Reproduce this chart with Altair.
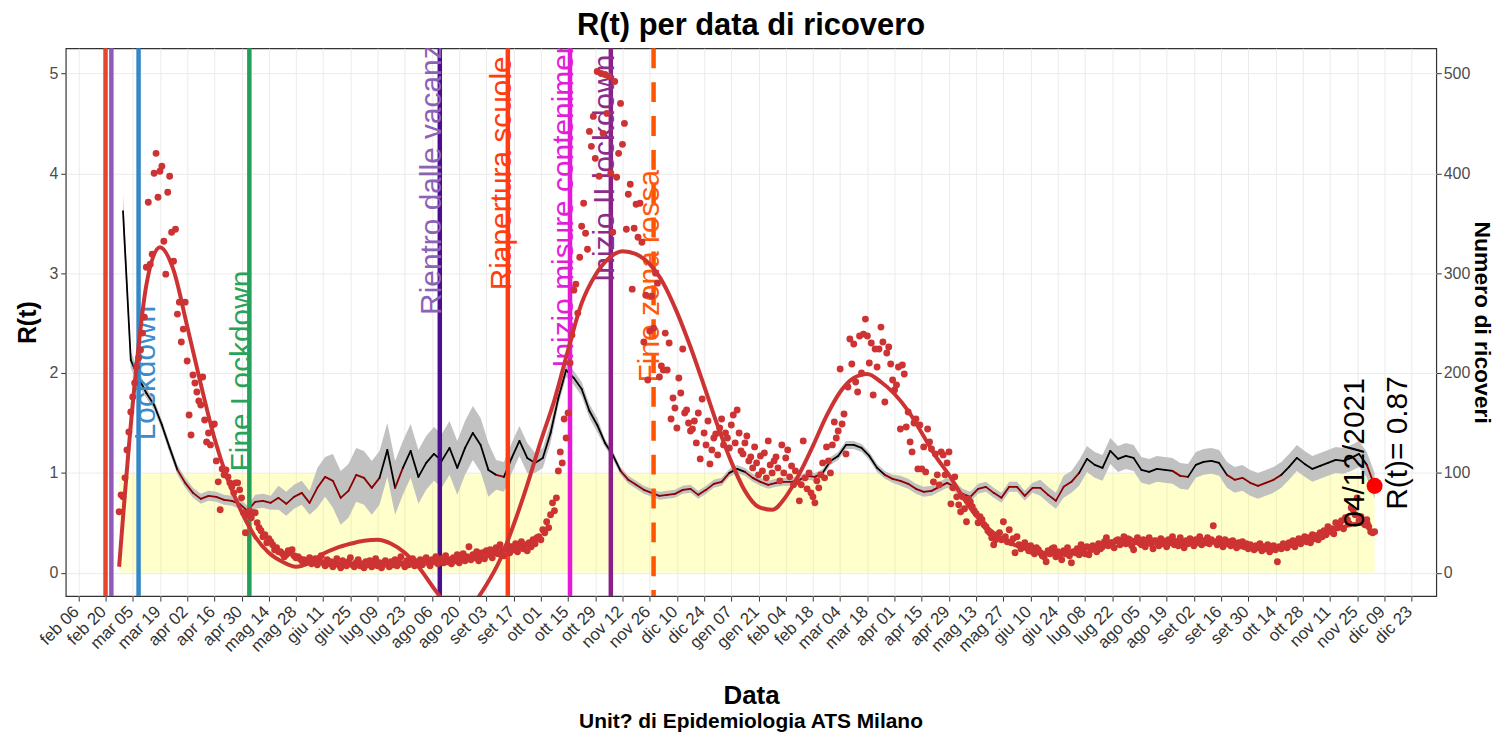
import altair as alt
import pandas as pd
import numpy as np

BASE = pd.Timestamp("2020-02-06")

# ---------------- R(t) (every 4 days from 29 Feb 2020 to 4 Dec 2021)
r_start_day = 23
r_step = 4
r_values = [
    3.62, 2.13, 1.95, 1.80, 1.68, 1.48, 1.25, 1.03, 0.90, 0.80,
    0.74, 0.77, 0.76, 0.73, 0.72, 0.69, 0.62, 0.71, 0.72, 0.70,
    0.75, 0.69, 0.76, 0.80, 0.70, 0.85, 0.96, 0.92, 0.75, 0.82,
    0.98, 0.95, 0.85, 0.95, 1.23, 0.85, 1.05, 1.22, 0.96, 1.10,
    1.19, 1.12, 1.25, 1.05, 1.25, 1.40, 1.28, 1.03, 0.98, 0.96,
    1.15, 1.32, 1.15, 1.10, 1.15, 1.40, 1.75, 2.03, 1.95, 1.84,
    1.62, 1.48, 1.30, 1.18, 1.02, 0.93, 0.88, 0.83, 0.80, 0.77,
    0.78, 0.79, 0.83, 0.84, 0.78, 0.83, 0.89, 0.91, 1.00, 1.04,
    1.01, 0.95, 0.91, 0.88, 0.90, 0.91, 0.91, 0.93, 0.97, 0.96,
    1.00, 1.12, 1.17, 1.28, 1.28, 1.25, 1.17, 1.05, 0.98, 0.94,
    0.92, 0.89, 0.84, 0.81, 0.82, 0.86, 0.90, 0.86, 0.79, 0.76,
    0.84, 0.86, 0.80, 0.75, 0.86, 0.86, 0.77, 0.85, 0.85, 0.78,
    0.72, 0.86, 0.91, 1.00, 1.14, 1.08, 1.05, 1.22, 1.14, 1.17,
    1.15, 1.03, 1.01, 1.04, 1.03, 1.02, 0.97, 0.96, 1.08, 1.11,
    1.12, 1.10, 0.98, 0.93, 0.95, 0.90, 0.87, 0.90, 0.93, 0.98,
    1.06, 1.15, 1.09, 1.04, 1.07, 1.10, 1.13, 1.12, 1.15, 1.19,
    1.08, 0.87,
]
# half width of the grey band, by period (start day -> half width)
band_start_days = [23, 27, 35, 88, 103, 122, 128, 215, 235, 245, 270, 420, 495, 505, 515]
band_half_width = [0.17, 0.08, 0.05, 0.07, 0.12, 0.20, 0.27, 0.15, 0.10, 0.07, 0.04, 0.05, 0.08, 0.11, 0.13]

# ---------------- daily hospitalisations (Numero di ricoveri), by segment
hosp_segments = [
    (21, [61, 78, 76, 95, 123, 141, 161, 176, 190, 206,
          215, 223, 240, 256, 306, 371, 309, 319, 400, 420,
          376, 402, 407, 332, 299, 381, 397, 341, 312, 344,
          259, 271, 231, 244, 271, 212, 158, 138, 198, 190,
          181, 172, 168, 196, 153, 131, 140, 128, 148, 149,
          112, 91, 63, 104, 98, 103, 96, 90, 86, 80,
          90, 90, 83, 75, 60, 40, 58, 62, 55, 60,
          60, 50, 45, 42, 36, 38, 30, 34, 31, 28,
          23, 25, 21, 21, 19, 16, 18, 22, 20, 23,
          17, 15, 16, 14, 12, 13, 10]),
    (118, [12, 15, 9, 11, 14, 8, 12, 17, 10, 7,
           13, 9, 11, 6, 10, 14, 8, 5, 12, 9,
           7, 11, 15, 8, 6, 10, 13, 7, 9, 5,
           11, 8, 12, 6, 9, 14, 7, 10, 5, 8,
           12, 9, 6, 11, 8, 13, 7, 10, 16, 9,
           6, 12, 8, 10, 14, 7, 11, 9, 13, 8,
           12, 15, 10, 7, 13, 11, 16, 9, 12, 14,
           10, 17, 11, 13, 9, 15, 12, 18, 10, 14,
           19, 12, 16, 26, 13, 18, 15, 21, 12, 17,
           20, 14, 22, 18, 23, 15, 20, 25, 19, 28,
           22, 17, 24, 27, 20, 26, 23, 29, 21, 26,
           31, 24, 28, 22, 30, 26, 33, 29, 35]),
    (237, [36, 33, 43, 40, 51, 45, 58, 70, 62, 75,
           102, 121, 110, 154, 135, 160, 210, 238, 283, 289,
           260, 316, 347, 370, 340, 324, 442, 427, 457, 415,
           502, 397, 500, 440, 499, 460, 497, 400, 341, 492,
           396, 420, 470, 429, 450, 344, 379, 389, 284, 345,
           369, 336, 370, 331, 231, 278, 193, 242, 277, 245,
           300, 290, 196, 207]),
    (301, [203, 240, 203, 230, 154, 175, 165, 145, 195, 180,
           224, 160, 163, 150, 142, 144, 152, 130, 160, 114,
           174, 140, 128, 152, 109, 123, 135, 139, 118, 145,
           154, 128, 140, 135, 125, 148, 158, 130, 163, 140,
           122, 119, 130, 137, 112, 116, 105, 126, 110, 98,
           117, 102, 120, 95, 132, 108, 100, 112, 116, 105,
           92, 128, 100, 115, 123, 96, 107, 88, 102, 91,
           72, 88, 132, 95, 84, 100, 80, 76, 70, 92,
           85, 98, 110, 95, 126, 112, 100, 128, 151, 135,
           142, 204, 149, 159, 119, 186, 234, 209, 229, 191,
           181, 237, 200, 239, 254, 237, 210, 230, 178, 224,
           206, 224, 246, 231, 171, 220, 226, 209, 193, 183]),
    (421, [188, 206, 144, 208, 199, 146, 161, 131, 121, 150,
           154, 104, 148, 104, 126, 101, 144, 131, 124, 91,
           119, 98, 88, 121, 118, 98, 110, 121, 69, 85,
           96, 76, 68, 61, 76, 64, 51, 74, 71, 66,
           62, 59, 50, 56, 53, 48, 46, 42, 40, 35,
           28, 33, 38, 40, 33, 51, 36, 31, 43, 30,
           34, 20, 36, 28, 24, 26, 30, 25, 22, 27,
           21, 19, 25, 23, 20, 17, 16, 11, 22, 19,
           24, 25, 16, 21, 18, 13, 22, 19, 25, 17,
           10, 21, 20, 24, 18, 28, 22, 19, 26, 18,
           23, 27, 25, 21, 29, 24, 26, 31, 35, 27,
           30, 30, 25, 32, 33, 28, 31, 36, 29, 34,
           33, 27, 23, 31, 35]),
    (546, [30, 28, 33, 26, 31, 35, 29, 24, 32, 30,
           27, 34, 29, 31, 26, 33, 30, 36, 28, 31,
           27, 35, 30, 25, 32, 29, 34, 31, 27, 33,
           30, 36, 28, 32, 30, 35, 29, 33, 47, 31,
           28, 34, 30, 26, 33, 29, 31, 27, 32, 28,
           25, 30, 27, 31, 26, 29, 24, 28, 26, 23,
           27, 25, 29, 22, 26, 24, 28, 21, 25, 27,
           23, 11, 26, 24, 29, 27, 25, 30, 28, 32,
           26, 31, 34, 29, 33, 36, 31, 35, 30, 38,
           34, 37, 33, 40, 36, 42, 38, 46, 41, 44,
           39, 50, 45, 48, 52, 44, 55, 53, 49, 65,
           63, 58, 75, 52, 56, 50, 48, 53, 46, 41,
           40, 41]),
]

# ---------------- smoothed hospitalisations (R(t) units), every 7 days from 27 Feb 2020
smooth_start_day = 21
smooth_step = 7
smooth_values = [
    0.06, 1.69, 2.88, 3.26, 3.03, 2.47, 1.89, 1.35, 0.93, 0.61,
    0.36, 0.20, 0.11, 0.06, 0.10, 0.19, 0.25, 0.29, 0.32, 0.33,
    0.29, 0.20, 0.06, -0.13, -0.31, -0.45, -0.32, -0.12, 0.13, 0.48,
    0.88, 1.32, 1.73, 2.23, 2.70, 2.98, 3.15, 3.22, 3.19, 3.09,
    2.90, 2.61, 2.26, 1.87, 1.47, 1.11, 0.82, 0.66, 0.63, 0.76,
    0.99, 1.27, 1.57, 1.81, 1.95, 1.99, 1.91, 1.79, 1.62, 1.40,
    1.17, 0.98, 0.76, 0.57, 0.43, 0.33, 0.27, 0.23, 0.20, 0.20,
    0.21, 0.24, 0.27, 0.30, 0.32, 0.33, 0.33, 0.33, 0.32, 0.31,
    0.31, 0.30, 0.29, 0.28, 0.26, 0.26, 0.28, 0.31, 0.36, 0.41,
    0.46, 0.49, 0.49,
]

# ---------------- events
vline_dates = ["2020-02-20", "2020-02-23", "2020-03-08", "2020-05-04", "2020-08-10",
               "2020-09-14", "2020-10-16", "2020-11-06"]
vline_colors = ["#E5452C", "#9159B8", "#3388C8", "#22A05A", "#4A0E8F",
                "#FF3D10", "#E619D9", "#8B1F87"]
dashed_date = "2020-11-28"
dashed_color = "#FF5500"

label_texts = ["Lockdown", "Fine Lockdown", "Rientro dalle vacanze", "Riapertura scuole",
               "Inizio misure contenimento", "Inizio II lockdown", "Fine zona rossa"]
label_dates = ["2020-03-12", "2020-04-30", "2020-08-06", "2020-09-11",
               "2020-10-13", "2020-11-03", "2020-11-26"]
label_r = [2.0, 2.02, 4.02, 4.0, 3.83, 4.05, 2.97]
label_colors = ["#3D8BC9", "#2AA35A", "#8B62B8", "#FF3D10", "#E21FD8", "#8B2C8B", "#FF5A0A"]

band_start = "2020-02-27"
band_end = "2021-12-04"
end_date = "2021-12-04"
end_r = 0.87

tick_start = "2020-02-06"
n_ticks = 50
month_names = ["gen", "feb", "mar", "apr", "mag", "giu", "lug", "ago", "set", "ott", "nov", "dic"]


# ---------------- helpers
def iso_days(days):
    return [(BASE + pd.Timedelta(days=float(d))).strftime("%Y-%m-%dT%H:%M:%SZ") for d in days]


def iso(s):
    return pd.Timestamp(s).strftime("%Y-%m-%dT%H:%M:%SZ")


r_days = r_start_day + r_step * np.arange(len(r_values))
r_arr = np.array(r_values)
hw = np.array(band_half_width)[np.searchsorted(band_start_days, r_days, side="right") - 1]
r_df = pd.DataFrame({"date": iso_days(r_days), "r": r_arr, "lo": r_arr - hw, "hi": r_arr + hw})

seg_rows = []
for i in range(len(r_values) - 1):
    col = "#8B0000" if (r_values[i] + r_values[i + 1]) / 2 < 1 else "#000000"
    seg_rows.append({"date": iso_days([r_days[i]])[0], "date2": iso_days([r_days[i + 1]])[0],
                     "r": r_values[i], "r2": r_values[i + 1], "col": col})
seg_df = pd.DataFrame(seg_rows)

h_days, h_vals = [], []
for start, vals in hosp_segments:
    h_days += [start + k for k in range(len(vals))]
    h_vals += vals
hosp_df = pd.DataFrame({"date": iso_days(h_days), "ric": h_vals})
hosp_df["rr"] = hosp_df["ric"] / 100.0

s_days = smooth_start_day + smooth_step * np.arange(len(smooth_values))
smooth_df = pd.DataFrame({"date": iso_days(s_days), "r": smooth_values})

vline_df = pd.DataFrame({"date": [iso(d) for d in vline_dates], "col": vline_colors})
dash_df = pd.DataFrame({"date": [iso(dashed_date)], "col": [dashed_color]})
label_df = pd.DataFrame({"date": [iso(d) for d in label_dates], "r": label_r,
                         "txt": label_texts, "col": label_colors})
band_df = pd.DataFrame({"start": [iso(band_start)], "end": [iso(band_end)], "y0": [0.0], "y1": [1.0]})
end_df = pd.DataFrame({"date": [iso(end_date)], "r": [end_r],
                       "lab1": [pd.Timestamp(end_date).strftime("%d/%m/%Y")],
                       "lab2": [f"R(t)= {end_r}"]})
cap_df = pd.DataFrame({"t": ["Unit? di Epidemiologia ATS Milano"]})

tick_vals = []
for k in range(n_ticks):
    t = pd.Timestamp(tick_start) + pd.Timedelta(days=14 * k)
    tick_vals.append(alt.DateTime(year=t.year, month=t.month, date=t.day, utc=True))

W, H = 1376, 550
FONT = "Liberation Sans"

xscale = alt.Scale(type="utc", nice=False,
                   domain=[alt.DateTime(year=2020, month=1, date=30, hours=13, utc=True),
                           alt.DateTime(year=2022, month=1, date=4, hours=17, minutes=30, utc=True)])
label_expr = ("[" + ",".join(f"'{m}'" for m in month_names) + "][utcmonth(datum.value)] + ' ' + "
              "utcFormat(datum.value, '%d')")
xaxis = alt.Axis(values=tick_vals, labelExpr=label_expr, labelAngle=315, labelAlign="right",
                 labelBaseline="top", labelFontSize=17, labelColor="#333333", labelOverlap=False,
                 labelFlush=False, labelBound=False, labelPadding=2, labelOffset=-8,
                 tickColor="#333333", tickSize=5,
                 domain=False, gridColor="#EBEBEB", titleFontSize=26, titleFontWeight="bold",
                 titleColor="black", titlePadding=28)
yscale = alt.Scale(domain=[-0.234, 5.252], nice=False, zero=False)
yaxis = alt.Axis(values=[0, 1, 2, 3, 4, 5], labelFontSize=16, labelColor="#4D4D4D", tickColor="#333333",
                 tickSize=5, domain=False, gridColor="#EBEBEB", titleFontSize=25, titleFontWeight="bold",
                 titleColor="black", titlePadding=8, labelPadding=3)


def X(field="date"):
    return alt.X(f"{field}:T", scale=xscale, axis=xaxis, title="Data")


def Y(field="r"):
    return alt.Y(f"{field}:Q", scale=yscale, axis=yaxis, title="R(t)")


band = alt.Chart(band_df).mark_rect(color="#FFFF00", opacity=0.2).encode(
    x=X("start"), x2="end:T", y=Y("y0"), y2="y1:Q")

ribbon = alt.Chart(r_df).mark_area(color="#BEBEBE", opacity=0.95).encode(
    x=X(), y=Y("lo"), y2="hi:Q")

rline = alt.Chart(seg_df).mark_rule(strokeWidth=1.8, strokeCap="round").encode(
    x=X(), x2="date2:T", y=Y("r"), y2="r2:Q", color=alt.Color("col:N", scale=None))

vlines = alt.Chart(vline_df).mark_rule(strokeWidth=4.5).encode(
    x=X(), color=alt.Color("col:N", scale=None))
dline = alt.Chart(dash_df).mark_rule(strokeWidth=4.5, strokeDash=[20, 14]).encode(
    x=X(), color=alt.Color("col:N", scale=None))

labels = alt.Chart(label_df).mark_text(angle=270, fontSize=30, align="center", baseline="middle",
                                       clip=True, font=FONT).encode(
    x=X(), y=Y("r"), text="txt:N", color=alt.Color("col:N", scale=None))

points = alt.Chart(hosp_df).mark_circle(size=48, opacity=1, color="#CD3333").encode(
    x=X(), y=Y("rr"))

smooth = alt.Chart(smooth_df).mark_line(color="#CD3333", strokeWidth=4, interpolate="monotone",
                                        clip=True).encode(x=X(), y=Y("r"))

end_dot = alt.Chart(end_df).mark_circle(size=260, color="#FF0000", opacity=1).encode(x=X(), y=Y("r"))
end_lab1 = alt.Chart(end_df).mark_text(angle=270, fontSize=30, align="center", baseline="middle",
                                       dx=33, dy=-20, color="black", font=FONT).encode(
    x=X(), y=Y("r"), text="lab1:N")
end_lab2 = alt.Chart(end_df).mark_text(angle=270, fontSize=30, align="center", baseline="middle",
                                       dx=43, dy=24, color="black", font=FONT).encode(
    x=X(), y=Y("r"), text="lab2:N")

caption = alt.Chart(cap_df).mark_text(fontSize=21, fontWeight="bold", color="black", font=FONT,
                                      align="center", baseline="middle").encode(
    x=alt.value(W / 2), y=alt.value(H + 126), text="t:N")

left = alt.layer(band, ribbon, rline, vlines, dline, labels, points, smooth, end_dot,
                 end_lab1, end_lab2, caption)

right = alt.Chart(hosp_df).mark_point(opacity=0).encode(
    x=X(),
    y=alt.Y("ric:Q", scale=alt.Scale(domain=[-23.4, 525.2], nice=False, zero=False),
            axis=alt.Axis(orient="right", values=[0, 100, 200, 300, 400, 500], grid=False, domain=False,
                          labelFontSize=16, labelColor="#4D4D4D", tickColor="#333333", tickSize=5,
                          titleFontSize=23, titleFontWeight="bold", titleColor="black",
                          titlePadding=0, labelPadding=2),
            title="Numero di ricoveri"))

chart = alt.layer(left, right).resolve_scale(y="independent").properties(
    width=W, height=H,
    title=alt.TitleParams("R(t) per data di ricovero", fontSize=31, fontWeight="bold", anchor="middle",
                          frame="group", offset=4, color="black", font=FONT),
    autosize=alt.AutoSizeParams(type="none"),
    padding={"left": 58, "top": 39, "right": 64, "bottom": 137},
).configure(font=FONT).configure_view(stroke="#333333", strokeWidth=1.2)

chart.save("out.html", embed_options={"renderer": "svg", "actions": False})
